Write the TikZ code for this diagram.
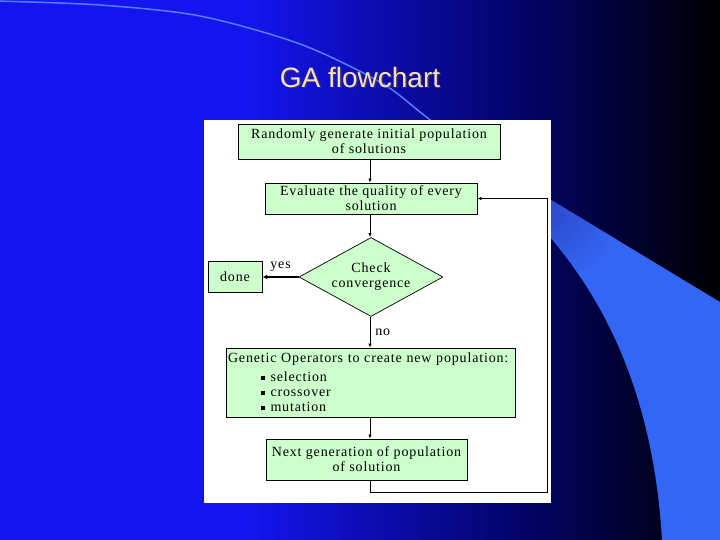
\documentclass[tikz,border=0pt]{standalone}
\usepackage{fontspec}
\setmainfont{Liberation Serif}
\newfontfamily\dfont[LetterSpace=6]{Liberation Serif}
\newfontfamily\tfont{Liberation Sans}
\usetikzlibrary{shapes.geometric,arrows.meta,calc}
\definecolor{bgA}{RGB}{20,20,238}
\definecolor{bgB}{RGB}{2,2,95}
\definecolor{cres}{RGB}{52,102,245}
\definecolor{cresd}{RGB}{45,75,205}
\definecolor{arcc}{RGB}{85,125,255}
\definecolor{boxg}{RGB}{204,255,204}
\definecolor{ttl}{RGB}{250,222,190}
\begin{document}
\begin{tikzpicture}[x=1pt,y=-1pt,
  box/.style={draw=black,line width=0.9pt,fill=boxg,inner sep=1pt,align=center,
    font=\dfont\fontsize{14}{15}\selectfont},
  dec/.style={diamond,draw=black,line width=0.7pt,fill=boxg,inner sep=0pt,align=center,
    minimum width=144pt,minimum height=79pt,shape aspect=1.82,
    font=\dfont\fontsize{14}{15}\selectfont},
  arr/.style={-{Latex[length=4pt,width=3.5pt]},line width=0.8pt},
  yarr/.style={-{Latex[length=5pt,width=5pt]},line width=1.8pt},
  lbl/.style={font=\dfont\fontsize{14}{15}\selectfont,inner sep=0pt}]
\useasboundingbox (0,0) rectangle (720,540);
% background
\fill[bgA] (0,0) rectangle (250.5,540);
\shade[left color=bgA,right color=bgB] (250,0) rectangle (540.5,540);
\shade[left color=bgB,right color=black] (540,0) rectangle (720,540);
% decorative arc
\draw[arcc,line width=1.5pt] plot[smooth] coordinates {(-5,1) (100,5) (200,16) (300,44) (380,82) (420,112) (445,132)};
% crescent
\fill[cres] (551,200) -- (720,302) -- (720,540) -- (662,540)
  .. controls (655,420) and (620,320) .. (551,238) -- cycle;
\begin{scope}
  \clip (551,200) -- (720,302) -- (720,540) -- (662,540)
    .. controls (655,420) and (620,320) .. (551,238) -- cycle;
  \shade[inner color=cresd,outer color=cres] (551,215) circle (70);
\end{scope}
% title
\node[font=\tfont\fontsize{28}{32}\selectfont,text=black!70,opacity=0.6] at (361.5,78.5) {GA flowchart};
\node[font=\tfont\fontsize{28}{32}\selectfont,text=ttl] (title) at (360,77) {GA flowchart};
% panel
\fill[white] (204,120) rectangle (551,503);
% nodes
\coordinate (ax) at (370,0);
\node[box,minimum width=262pt,minimum height=35pt] (b1) at (369,141.5)
  {Randomly generate initial population\\of solutions};
\node[box,minimum width=212pt,minimum height=31pt] (b2) at (371,198.5)
  {Evaluate the quality of every\\solution};
\node[dec] (d) at (371,277) {Check\\convergence};
\node[box,minimum width=54pt,minimum height=31pt] (done) at (235,277) {done};
\node[box,minimum width=289pt,minimum height=69pt,text width=285pt,align=left,inner sep=2pt] (b4) at (370.5,382.5)
  {Genetic Operators to create new population:\\[4pt]
   \hspace*{33pt}\raisebox{2pt}{\rule{3.5pt}{3.5pt}}\hspace{6pt}selection\\
   \hspace*{33pt}\raisebox{2pt}{\rule{3.5pt}{3.5pt}}\hspace{6pt}crossover\\
   \hspace*{33pt}\raisebox{2pt}{\rule{3.5pt}{3.5pt}}\hspace{6pt}mutation};
\draw[line width=1.6pt] (b4.south west) -- (b4.south east);
\node[box,minimum width=201pt,minimum height=41pt] (b5) at (366.5,459.5)
  {Next generation of population\\of solution};
\coordinate (lb) at (547,492);
% connectors
\draw[arr] (b1.south -| ax) -- (b2.north -| ax);
\draw[arr] (b2.south -| ax) -- (d.north -| ax);
\draw[yarr] (d.west) -- node[lbl,above=5pt] {yes} (done.east);
\draw[arr] (d.south -| ax) -- node[lbl,right=5pt] {no} (b4.north -| ax);
\draw[arr] (b4.south -| ax) -- (b5.north -| ax);
\draw[arr] (b5.south -| ax) |- (lb) |- (b2.east);
\end{tikzpicture}
\end{document}
